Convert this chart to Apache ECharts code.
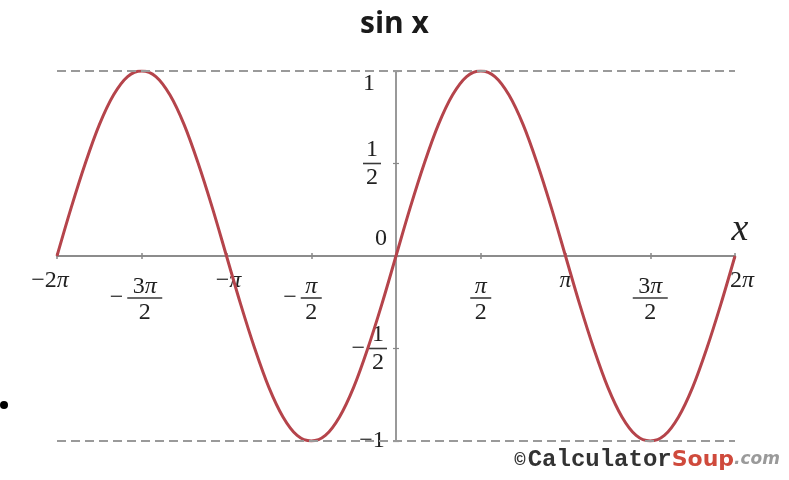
<!DOCTYPE html>
<html>
<head>
<meta charset="utf-8">
<script src="https://cdn.jsdelivr.net/npm/echarts@6/dist/echarts.min.js"></script>
<style>
  html, body { margin: 0; padding: 0; background: #fff; }
  #chart { width: 789px; height: 480px; }
</style>
</head>
<body>
<div id="chart"></div>
<script>
// Sampled points of y = sin x, angle in degrees from -2π to 2π
const angleDeg = [
  -360, -345, -330, -315, -300, -285, -270, -255, -240, -225, -210, -195, -180,
  -165, -150, -135, -120, -105, -90, -75, -60, -45, -30, -15, 0,
  15, 30, 45, 60, 75, 90, 105, 120, 135, 150, 165, 180,
  195, 210, 225, 240, 255, 270, 285, 300, 315, 330, 345, 360
];
const sinValues = [
  0, 0.26, 0.5, 0.71, 0.87, 0.97, 1, 0.97, 0.87, 0.71, 0.5, 0.26, 0,
  -0.26, -0.5, -0.71, -0.87, -0.97, -1, -0.97, -0.87, -0.71, -0.5, -0.26, 0,
  0.26, 0.5, 0.71, 0.87, 0.97, 1, 0.97, 0.87, 0.71, 0.5, 0.26, 0,
  -0.26, -0.5, -0.71, -0.87, -0.97, -1, -0.97, -0.87, -0.71, -0.5, -0.26, 0
];

// Tick labels
const xTickDeg = [-360, -270, -180, -90, 90, 180, 270, 360];
const xTickText = ['−2π', '−3π/2', '−π', '−π/2', 'π/2', 'π', '3π/2', '2π'];
const yTickVal = [1, 0.5, 0, -0.5, -1];
const yTickText = ['1', '1/2', '0', '−1/2', '−1'];

// Label nudges (px): dx horizontal, dy vertical
const xNudge = { '-360': { dx: -7 }, '-270': { dx: 3 }, '-180': { dx: 2 }, '360': { dx: 7 } };
const yNudge = { '1': { dx: -3, dy: 13 }, '0': { dx: 9, dy: -17 }, '-0.5': { dx: 6 } };

const SERIF = '"Liberation Serif", "DejaVu Serif", serif';
const INK = '#222';
const FS = 24;

// Plot box
const GRID = { left: 57, right: 54, top: 71, bottom: 39 };
const W = 789, H = 480;
const plotW = W - GRID.left - GRID.right;
const plotH = H - GRID.top - GRID.bottom;

// Rich text styles; fraction line heights differ per axis
function makeRich(cfg) {
  const glyph = (lh, italic) => ({
    fontFamily: SERIF, fontSize: FS, color: INK, lineHeight: lh,
    fontStyle: italic ? 'italic' : 'normal'
  });
  const rich = {
    t: glyph(22, false), pi: glyph(22, true),
    tn: glyph(cfg.num, false), pin: glyph(cfg.num, true),
    td: glyph(cfg.den, false), pid: glyph(cfg.den, true),
    m: { fontFamily: SERIF, fontSize: FS, color: INK, lineHeight: cfg.bar },
    mz: { fontFamily: SERIF, fontSize: FS, color: 'rgba(0,0,0,0)', lineHeight: cfg.bar },
    g: { width: cfg.gap, lineHeight: 1, fontSize: 6 },
    b1: { width: cfg.b1, height: 1.6, backgroundColor: '#3a3a3a', lineHeight: cfg.bar, fontSize: 6 },
    b2: { width: cfg.b2, height: 1.6, backgroundColor: '#3a3a3a', lineHeight: cfg.bar, fontSize: 6 }
  };
  for (let w = 1; w <= 40; w++) {
    rich['s' + w] = { width: w, lineHeight: 1, fontSize: 6 };
    rich['v' + w] = { lineHeight: w, fontSize: 6 };
  }
  return rich;
}

function glyphs(s, kind) {
  return s.split('').map(c => (c === 'π' ? '{pi' + kind + '|π}' : '{t' + kind + '|' + c + '}')).join('');
}

function buildLabel(text, nudge, lead) {
  nudge = nudge || {};
  const dx = nudge.dx || 0;
  const pad = line => {
    if (dx > 0) return '{s' + (2 * dx) + '| }' + line;
    if (dx < 0) return line + '{s' + (-2 * dx) + '| }';
    return line;
  };
  const neg = text.startsWith('−');
  const body = neg ? text.slice(1) : text;
  let lines;
  if (body.includes('/')) {
    const [num, den] = body.split('/');
    const bar = num.length > 1 ? 'b2' : 'b1';
    const mid = neg ? '{m|−}{g| }{' + bar + '| }{g| }{mz|−}' : '{' + bar + '| }';
    lines = [pad(glyphs(num, 'n')), pad(mid), pad(glyphs(den, 'd'))];
    if (lead) lines.unshift('{v' + lead + '| }');
  } else {
    lines = [pad((neg ? '{t|−}' : '') + glyphs(body, ''))];
  }
  const dy = nudge.dy || 0;
  if (dy > 0) lines.unshift('{v' + (2 * dy) + '| }');
  if (dy < 0) lines.push('{v' + (-2 * dy) + '| }');
  return lines.join('\n');
}

const xRich = makeRich({ num: 16, bar: 6, den: 24, gap: 4, b1: 21, b2: 35 });
const yRich = makeRich({ num: 22, bar: 6, den: 22, gap: 4, b1: 18, b2: 34 });

const xAxisBase = {
  type: 'value', min: -360, max: 360, interval: 90,
  position: 'bottom',
  // both axes cross at the origin, in the middle of the plot box
  offset: -plotH / 2,
  splitLine: { show: false }
};
const yAxisBase = {
  type: 'value', min: -1, max: 1, interval: 0.5,
  position: 'left',
  offset: -plotW / 2,
  splitLine: { show: false }
};

const chart = echarts.init(document.getElementById('chart'), null, { renderer: 'canvas' });

chart.setOption({
  animation: false,
  backgroundColor: '#fff',
  title: [
    {
      text: 'sin x',
      left: 'center',
      top: 4,
      textStyle: { fontFamily: '"Open Sans", sans-serif', fontWeight: 'bold', fontSize: 30, color: '#1a1a1a' }
    },
    {
      text: '{c|©}{g| }{k|Calculator}{s|Soup}{d|.com}',
      right: 4,
      bottom: 3,
      textStyle: {
        rich: {
          c: { fontFamily: '"Liberation Mono", monospace', fontWeight: 'bold', fontSize: 19, color: '#333' },
          g: { width: 2, fontSize: 6 },
          k: { fontFamily: '"Liberation Mono", monospace', fontWeight: 'bold', fontSize: 24, color: '#333' },
          s: { fontFamily: '"DejaVu Sans", sans-serif', fontWeight: 'bold', fontSize: 22, color: '#cf4a3c' },
          d: { fontFamily: '"DejaVu Sans", sans-serif', fontStyle: 'italic', fontSize: 17, color: '#9a9a9a' }
        }
      }
    }
  ],
  graphic: [
    { type: 'circle', shape: { cx: 4, cy: 405, r: 4 }, style: { fill: '#000' } }
  ],
  grid: Object.assign({ outerBoundsMode: 'none' }, GRID),
  xAxis: [
    Object.assign({}, xAxisBase, {
      axisLine: { show: true, onZero: false, lineStyle: { color: '#8c8c8c', width: 2 } },
      axisTick: { show: true, length: 3, lineStyle: { color: '#888', width: 1.5 } },
      axisLabel: {
        margin: 14,
        showMinLabel: true,
        showMaxLabel: true,
        hideOverlap: false,
        rich: xRich,
        formatter: function (v) {
          const i = xTickDeg.indexOf(v);
          return i < 0 ? '' : buildLabel(xTickText[i], xNudge[String(v)], 9);
        }
      },
      name: 'x',
      nameLocation: 'end',
      nameGap: 5,
      nameTextStyle: {
        fontFamily: SERIF, fontStyle: 'italic', fontSize: 38, color: INK,
        align: 'center', verticalAlign: 'bottom', padding: [0, 0, 7, 0]
      }
    }),
    // upper half of the crossing ticks
    Object.assign({}, xAxisBase, {
      axisLine: { show: false, onZero: false },
      axisTick: { show: true, inside: true, length: 3, lineStyle: { color: '#888', width: 1.5 } },
      axisLabel: { show: false }
    })
  ],
  yAxis: [
    Object.assign({}, yAxisBase, {
      axisLine: { show: true, onZero: false, lineStyle: { color: '#777', width: 1.5 } },
      axisTick: { show: true, length: 3, lineStyle: { color: '#888', width: 1.2 } },
      axisLabel: {
        margin: 24,
        align: 'center',
        verticalAlign: 'middle',
        hideOverlap: false,
        rich: yRich,
        formatter: function (v) {
          const i = yTickVal.indexOf(v);
          return i < 0 ? '' : buildLabel(yTickText[i], yNudge[String(v)], 0);
        }
      }
    }),
    Object.assign({}, yAxisBase, {
      axisLine: { show: false, onZero: false },
      axisTick: { show: true, inside: true, length: 3, lineStyle: { color: '#888', width: 1.2 } },
      axisLabel: { show: false }
    })
  ],
  series: [
    {
      type: 'line',
      xAxisIndex: 0,
      yAxisIndex: 0,
      data: angleDeg.map((a, i) => [a, sinValues[i]]),
      showSymbol: false,
      smooth: 0.35,
      lineStyle: { color: '#b5444b', width: 3 },
      z: 3,
      markLine: {
        silent: true,
        symbol: 'none',
        label: { show: false },
        lineStyle: { type: [9, 5], color: '#9a9a9a', width: 2 },
        data: [{ yAxis: 1 }, { yAxis: -1 }]
      }
    }
  ]
});
</script>
</body>
</html>
